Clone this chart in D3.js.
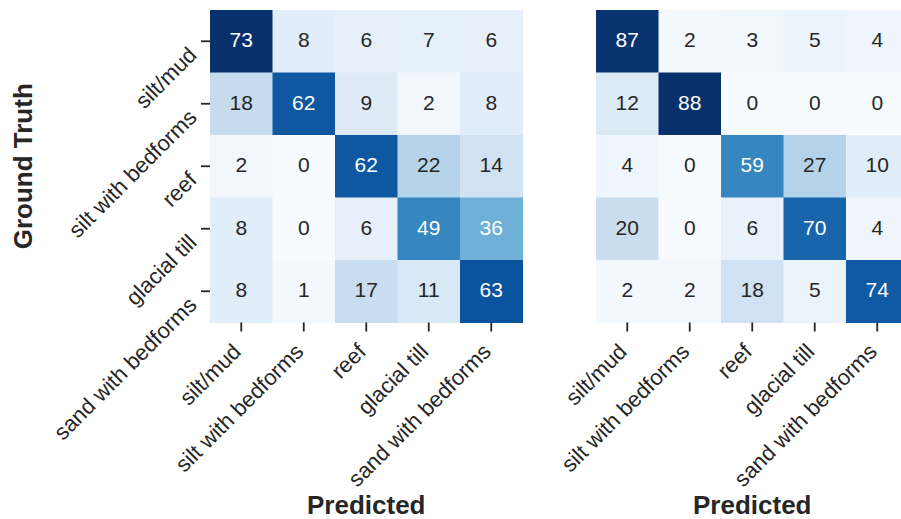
<!DOCTYPE html>
<html>
<head>
<meta charset="utf-8">
<script src="https://cdn.jsdelivr.net/npm/d3@7"></script>
<style>
  html, body { margin: 0; padding: 0; background: #ffffff; }
  svg { display: block; font-family: "Liberation Sans", Arial, sans-serif; }
</style>
</head>
<body>
<svg id="chart" width="901" height="519"></svg>
<script>
// ---- data ----
const categories = ["silt/mud", "silt with bedforms", "reef", "glacial till", "sand with bedforms"];
const leftMatrix = [
  [73, 8, 6, 7, 6],
  [18, 62, 9, 2, 8],
  [2, 0, 62, 22, 14],
  [8, 0, 6, 49, 36],
  [8, 1, 17, 11, 63]
];
const rightMatrix = [
  [87, 2, 3, 5, 4],
  [12, 88, 0, 0, 0],
  [4, 0, 59, 27, 10],
  [20, 0, 6, 70, 4],
  [2, 2, 18, 5, 74]
];
const yTitle = "Ground Truth";
const xTitle = "Predicted";

// matplotlib "Blues" anchors
const bluesStops = ["#f7fbff", "#deebf7", "#c6dbef", "#9ecae1", "#6baed6", "#4292c6", "#2171b5", "#08519c", "#08306b"];

const svg = d3.select("#chart");
const textColor = "#262626";
const size = 312.5;
const topY = 10;
const labelSize = 22;
const annotSize = 21;

function luminance(c) {
  const rgb = d3.rgb(c);
  const f = v => { v /= 255; return v <= 0.03928 ? v / 12.92 : Math.pow((v + 0.055) / 1.055, 2.4); };
  return 0.2126 * f(rgb.r) + 0.7152 * f(rgb.g) + 0.0722 * f(rgb.b);
}

function drawHeatmap(matrix, left, showY) {
  const vmin = d3.min(matrix.flat());
  const vmax = d3.max(matrix.flat());
  const color = d3.scaleLinear()
    .domain(bluesStops.map((d, i) => vmin + (vmax - vmin) * i / (bluesStops.length - 1)))
    .range(bluesStops)
    .interpolate(d3.interpolateRgb)
    .clamp(true);

  const x = d3.scaleBand().domain(categories).range([left, left + size]).padding(0);
  const y = d3.scaleBand().domain(categories).range([topY, topY + size]).padding(0);

  const g = svg.append("g");
  const cells = [];
  matrix.forEach((row, i) => row.forEach((v, j) => cells.push({ r: categories[i], c: categories[j], v })));

  g.selectAll("rect").data(cells).join("rect")
    .attr("x", d => x(d.c))
    .attr("y", d => y(d.r))
    .attr("width", x.bandwidth() + 0.5)
    .attr("height", y.bandwidth() + 0.5)
    .attr("fill", d => color(d.v));

  g.selectAll("text.annot").data(cells).join("text")
    .attr("class", "annot")
    .attr("x", d => x(d.c) + x.bandwidth() / 2)
    .attr("y", d => y(d.r) + y.bandwidth() / 2 + 5.8)
    .attr("text-anchor", "middle")
    .attr("font-size", annotSize)
    .attr("fill", d => luminance(color(d.v)) > 0.408 ? textColor : "#ffffff")
    .text(d => d.v);

  // x axis ticks
  const xAxis = svg.append("g")
    .attr("transform", `translate(0,${topY + size})`)
    .call(d3.axisBottom(x).tickSize(9).tickSizeOuter(0).tickPadding(0).tickFormat(""));
  xAxis.select(".domain").remove();
  xAxis.selectAll("line").attr("stroke", textColor).attr("stroke-width", 1.8);

  svg.append("g").selectAll("text").data(categories).join("text")
    .attr("transform", d => `translate(${x(d) + x.bandwidth() / 2 + 1},353) rotate(-45)`)
    .attr("text-anchor", "end")
    .attr("font-size", labelSize)
    .attr("fill", textColor)
    .text(d => d);

  svg.append("text")
    .attr("x", left + size / 2)
    .attr("y", 514)
    .attr("text-anchor", "middle")
    .attr("font-size", 26)
    .attr("font-weight", "bold")
    .attr("fill", textColor)
    .text(xTitle);

  if (showY) {
    const yAxis = svg.append("g")
      .attr("transform", `translate(${left},0)`)
      .call(d3.axisLeft(y).tickSize(9).tickSizeOuter(0).tickPadding(0).tickFormat(""));
    yAxis.select(".domain").remove();
    yAxis.selectAll("line").attr("stroke", textColor).attr("stroke-width", 1.8);

    svg.append("g").selectAll("text").data(categories).join("text")
      .attr("transform", d => `translate(198,${y(d) + y.bandwidth() / 2 + 15}) rotate(-45)`)
      .attr("text-anchor", "end")
      .attr("font-size", labelSize)
      .attr("fill", textColor)
      .text(d => d);

    svg.append("text")
      .attr("transform", `translate(32,${topY + size / 2}) rotate(-90)`)
      .attr("text-anchor", "middle")
      .attr("font-size", 26)
      .attr("font-weight", "bold")
      .attr("fill", textColor)
      .text(yTitle);
  }
}

drawHeatmap(leftMatrix, 210, true);
drawHeatmap(rightMatrix, 596, false);
</script>
</body>
</html>
